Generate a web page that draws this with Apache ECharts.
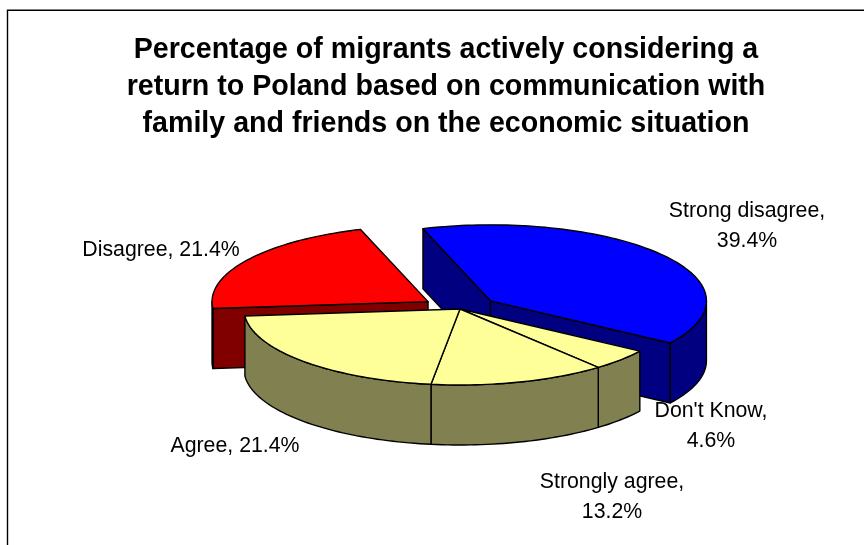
<!DOCTYPE html>
<html>
<head>
<meta charset="utf-8">
<style>html,body{margin:0;padding:0;background:#fff}#chart{width:864px;height:545px}</style>
<script src="https://cdn.jsdelivr.net/npm/echarts@6/dist/echarts.min.js"></script>
</head>
<body>
<div id="chart"></div>
<script>
// Survey answers, in clockwise order from the first slice
const categories = ['Strong disagree', "Don't Know", 'Strongly agree', 'Agree', 'Disagree'];
const shares = [39.4, 4.6, 13.2, 21.4, 21.4];
const pulledOut = ['Strong disagree', 'Disagree'];
const titleLines = [
  'Percentage of migrants actively considering a',
  'return to Poland based on communication with',
  'family and friends on the economic situation'
];

// Label anchor (centre of the text block) for each answer
const labelSpots = {
  'Strong disagree': { x: 747, y: 226, text: c => c + ',\n' },
  "Don't Know": { x: 711, y: 426, text: c => c + ',\n' },
  'Strongly agree': { x: 612, y: 497, text: c => c + ',\n' },
  'Agree': { x: 235, y: 446, text: c => c + ', ' },
  'Disagree': { x: 161, y: 250, text: c => c + ', ' }
};

// Projection of the tilted pie
const CX = 460, CY = 309, RX = 216, RY = 76, DEPTH = 60;
const START_DEG = -18.2, PULL = 0.177;
const SKINS = {
  'Strong disagree': ['#0000ff', '#000080'],
  "Don't Know": ['#ffff99', '#808050'],
  'Strongly agree': ['#ffff99', '#808050'],
  'Agree': ['#ffff99', '#808050'],
  'Disagree': ['#ff0000', '#800000']
};

const total = shares.reduce((a, b) => a + b, 0);
const rad = d => d * Math.PI / 180;
const project = (deg, ox, oy) => [ox + RX * Math.sin(rad(deg)), oy - RY * Math.cos(rad(deg))];
const arc = (from, to, ox, oy) => {
  const pts = [], n = Math.max(2, Math.ceil(Math.abs(to - from) / 1.5));
  for (let i = 0; i <= n; i++) pts.push(project(from + (to - from) * i / n, ox, oy));
  return pts;
};
const lineStyle = fill => ({ fill, stroke: '#000', lineWidth: 1.4, lineJoin: 'round' });

function renderSlice(params, api) {
  const i = params.dataIndex;
  const name = categories[i];
  let before = 0;
  for (let k = 0; k < i; k++) before += shares[k];
  const a0 = START_DEG + before / total * 360;
  const a1 = a0 + api.value(0) / total * 360;
  const mid = (a0 + a1) / 2;
  const out = pulledOut.includes(name);
  const ox = CX + (out ? PULL * RX * Math.sin(rad(mid)) : 0);
  const oy = CY - (out ? PULL * RY * Math.cos(rad(mid)) : 0);
  const [topFill, sideFill] = SKINS[name];
  const layer = out ? 0 : 1;
  const children = [];
  const poly = (points, fill, z2) => children.push({
    type: 'polygon', shape: { points }, style: lineStyle(fill), z2, silent: true
  });

  const face = deg => {
    const p = project(deg, ox, oy);
    poly([[ox, oy], p, [p[0], p[1] + DEPTH], [ox, oy + DEPTH]], sideFill, layer * 10 + 1);
  };
  // Cut faces are seen only when they turn towards the viewer, and only on pulled-out slices
  if (out && Math.sin(rad(a0)) < 0) face(a0);
  if (out && Math.sin(rad(a1)) > 0) face(a1);

  // Rim: only the front half of the circle faces the viewer
  const f0 = Math.max(a0, 90), f1 = Math.min(a1, 270);
  if (f1 > f0) {
    const upper = arc(f0, f1, ox, oy);
    const lower = upper.map(p => [p[0], p[1] + DEPTH]).reverse();
    poly(upper.concat(lower), sideFill, layer * 10 + 2);
  }
  // Top surface
  poly([[ox, oy]].concat(arc(a0, a1, ox, oy)), topFill, layer * 10 + 3);

  const spot = labelSpots[name];
  children.push({
    type: 'text', z2: 50, silent: true,
    style: {
      x: spot.x, y: spot.y, align: 'center', verticalAlign: 'middle',
      text: spot.text(name) + api.value(0).toFixed(1) + '%',
      font: '21.3px "Liberation Sans", Arial, sans-serif', lineHeight: 30, fill: '#000'
    }
  });
  return { type: 'group', children };
}

const chart = echarts.init(document.getElementById('chart'), null, { renderer: 'canvas' });
chart.setOption({
  animation: false,
  backgroundColor: '#fff',
  title: {
    text: titleLines.join('\n'),
    left: 441, top: 27, textAlign: 'center',
    textStyle: { fontFamily: '"Liberation Sans", Arial, sans-serif', fontWeight: 'bold', fontSize: 28.6, lineHeight: 37, color: '#000' }
  },
  // Frame around the chart area; its right and bottom sides run past the page edge
  graphic: [{
    type: 'rect', silent: true, z: -1,
    shape: { x: 7.5, y: 10.3, width: 900, height: 600 },
    style: { fill: 'none', stroke: '#000', lineWidth: 1.4 }
  }],
  series: [{
    type: 'custom',
    coordinateSystem: 'none',
    renderItem: renderSlice,
    data: shares.map((v, i) => ({ name: categories[i], value: [v] }))
  }]
});
</script>
</body>
</html>
